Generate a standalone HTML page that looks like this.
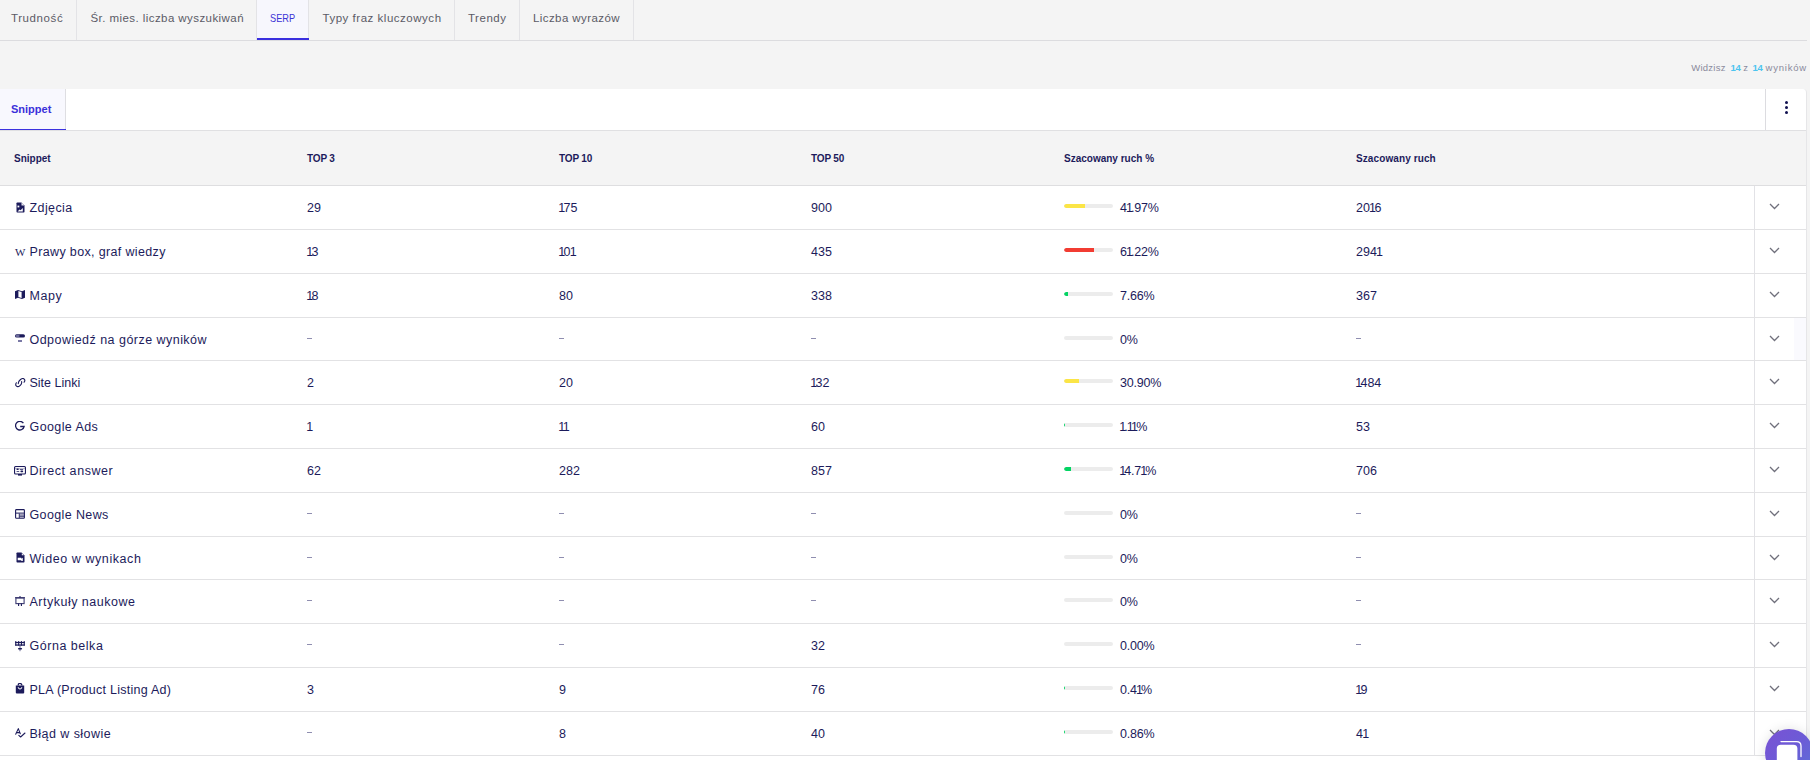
<!DOCTYPE html><html><head><meta charset="utf-8"><style>
*{box-sizing:border-box;margin:0;padding:0}
html,body{width:1810px;height:760px;overflow:hidden;background:#f4f4f4;font-family:"Liberation Sans",sans-serif;color:#1c1b5b}
.abs{position:absolute}
.tabbar{position:absolute;left:0;top:0;width:1807px;height:41px;border-bottom:1px solid #dcdcdf}
.tab{position:absolute;top:0;height:40px;border-right:1px solid #e3e3e6;font-size:11.5px;color:#5b5b66;line-height:40px;white-space:nowrap}
.tab span{position:absolute;top:-2.5px}
.tab.act span{transform:scaleX(0.8);transform-origin:0 50%}
.tab.act{background:#f7f7fd;color:#3b33d6}
.tab.act:after{content:"";position:absolute;left:0;right:-1px;bottom:0px;height:2px;background:#3a2fdf}
.info{position:absolute;top:58px;font-size:9.5px;color:#8a8a9c;white-space:nowrap;line-height:20px}
.info b{color:#4cc4ef;font-weight:bold}
.card{position:absolute;left:0;top:89px;width:1807px;height:680px;background:#fff;border-top-right-radius:4px;border-right:1px solid #e6e6e8}
.ctabs{position:absolute;left:0;top:0;width:1806px;height:42px;border-bottom:1px solid #e0e0e2}
.ctab{position:absolute;left:0;top:0;width:66px;height:41px;background:#f8f8fe;border-right:1px solid #dedee2}
.ctab span{position:absolute;left:11px;top:13px;font-size:11px;font-weight:bold;color:#3b30da;line-height:14px}
.ctab i{position:absolute;left:0;right:-1px;top:40px;height:1px;background:#3c32df}
.menu{position:absolute;left:1765px;top:0;width:41px;height:41px;border-left:1px solid #dcdce0}
.dot{position:absolute;left:19.3px;width:3px;height:3px;border-radius:50%;background:#10104f}
.thead{position:absolute;left:0;top:42px;width:1806px;height:55px;background:#f4f4f4;border-bottom:1px solid #dedee0}
.th{position:absolute;top:20.5px;font-size:10px;font-weight:bold;color:#1d1b5c;line-height:14px;white-space:nowrap}
.row{position:absolute;left:0;width:1806px;border-bottom:1px solid #e2e2e4}
.cell{position:absolute;top:1px;line-height:43px;font-size:12.5px;white-space:nowrap;color:#1c1b5b}
.name{font-size:12.5px}
.dash{position:absolute;top:20px;width:5px;height:1px;background:#8f8eb0}
.ic{position:absolute;display:block}
.ic svg{display:block}
.wk{font-family:"Liberation Serif",serif;font-size:11px;line-height:9px;color:#1c1b5b;display:block;letter-spacing:-0.5px}
.bar{position:absolute;left:1064px;top:18px;width:49px;height:4px;border-radius:2px;background:#ececec;overflow:hidden}
.bar i{position:absolute;left:0;top:0;height:4px;border-radius:2px 0 0 2px}
.pct{letter-spacing:-0.2px}
.d1{margin:0 -1.7px 0 -0.8px}
.exp{position:absolute;left:1754px;top:0;width:52px;height:100%;border-left:1px solid #e2e2e6}
.chev{position:absolute;left:13.6px;top:17px}
.chat{position:absolute;left:1765px;top:729px;width:48px;height:48px;border-radius:50%;background:linear-gradient(135deg,#7a52d4 0%,#6c5bd6 50%,#5a73d8 100%);box-shadow:0 0 12px rgba(0,0,0,.12)}
</style></head><body>
<div class="tabbar">
<div class="tab" style="left:0px;width:77px"><span style="left:11px;letter-spacing:0.59px">Trudność</span></div>
<div class="tab" style="left:77px;width:180px"><span style="left:13.5px;letter-spacing:0.43px">Śr. mies. liczba wyszukiwań</span></div>
<div class="tab act" style="left:257px;width:52px"><span style="left:13.2px;letter-spacing:0px">SERP</span></div>
<div class="tab" style="left:310px;width:145px"><span style="left:12.5px;letter-spacing:0.52px">Typy fraz kluczowych</span></div>
<div class="tab" style="left:455px;width:65px"><span style="left:13px;letter-spacing:0.52px">Trendy</span></div>
<div class="tab" style="left:520px;width:114px"><span style="left:13px;letter-spacing:0.41px">Liczba wyrazów</span></div>
</div>
<div class="info" style="left:1691.2px;letter-spacing:0.25px">Widzisz</div>
<div class="info" style="left:1730.6px;letter-spacing:-0.3px"><b>14</b></div>
<div class="info" style="left:1743.3px;letter-spacing:0px">z</div>
<div class="info" style="left:1752.6px;letter-spacing:-0.3px"><b>14</b></div>
<div class="info" style="left:1765.5px;letter-spacing:0.8px">wyników</div>
<div class="card">
<div class="ctabs"><div class="ctab"><span>Snippet</span><i></i></div>
<div class="menu"><div class="dot" style="top:12.2px"></div><div class="dot" style="top:17px"></div><div class="dot" style="top:21.8px"></div></div></div>
<div class="thead">
<div class="th" style="left:14px;letter-spacing:0px">Snippet</div>
<div class="th" style="left:307px;letter-spacing:-0.15px">TOP 3</div>
<div class="th" style="left:559px;letter-spacing:-0.15px">TOP 10</div>
<div class="th" style="left:811px;letter-spacing:-0.15px">TOP 50</div>
<div class="th" style="left:1064px;letter-spacing:0px">Szacowany ruch %</div>
<div class="th" style="left:1356px;letter-spacing:0.1px">Szacowany ruch</div>
</div>
<div class="row" style="top:97px;height:44px">
<span class="ic" style="left:15.5px;top:16px"><svg width="9" height="11" viewBox="0 0 9 11"><path d="M0.5 1.2Q0.5 0.5 1.2 0.5H5.5L8.5 3.5V9.8Q8.5 10.5 7.8 10.5H1.2Q0.5 10.5 0.5 9.8Z" fill="#1c1b5b"/><path d="M5.5 0.5V3.5H8.5" fill="#fff" opacity=".9"/><rect x="1.5" y="3.6" width="1.8" height="1.8" fill="#fff"/><path d="M1.5 9.5L3.6 7.4L4.6 8.2L6.8 6V9.5Z" fill="#fff"/></svg></span>
<div class="cell name" style="left:29.5px;letter-spacing:0.409px">Zdjęcia</div>
<div class="cell num" style="left:307px">29</div>
<div class="cell num" style="left:559px"><span class="d1">1</span>75</div>
<div class="cell num" style="left:811px">900</div>
<div class="cell num" style="left:1356px">20<span class="d1">1</span>6</div>
<div class="bar"><i style="width:21px;background:#fbe546"></i></div>
<div class="cell pct" style="left:1120px">4<span class="d1">1</span>.97%</div>
<div class="exp"><svg class="chev" width="11" height="7" viewBox="0 0 11 7"><path d="M1 1L5.5 5.5L10 1" fill="none" stroke="#70707c" stroke-width="1.3"/></svg></div>
</div>
<div class="row" style="top:141px;height:44px">
<span class="ic" style="left:15px;top:17.5px"><span class="wk">W</span></span>
<div class="cell name" style="left:29.5px;letter-spacing:0.354px">Prawy box, graf wiedzy</div>
<div class="cell num" style="left:307px"><span class="d1">1</span>3</div>
<div class="cell num" style="left:559px"><span class="d1">1</span>0<span class="d1">1</span></div>
<div class="cell num" style="left:811px">435</div>
<div class="cell num" style="left:1356px">294<span class="d1">1</span></div>
<div class="bar"><i style="width:30px;background:#f23c32"></i></div>
<div class="cell pct" style="left:1120px">6<span class="d1">1</span>.22%</div>
<div class="exp"><svg class="chev" width="11" height="7" viewBox="0 0 11 7"><path d="M1 1L5.5 5.5L10 1" fill="none" stroke="#70707c" stroke-width="1.3"/></svg></div>
</div>
<div class="row" style="top:185px;height:44px">
<span class="ic" style="left:15.3px;top:15.5px"><svg width="10" height="9" viewBox="0 0 10 9"><path d="M0 1.2L3 0L7 1.2L10 0V7.8L7 9L3 7.8L0 9Z" fill="#1c1b5b"/><path d="M3.4 1.1L6.6 2.1V7.9L3.4 6.9Z" fill="#fff"/></svg></span>
<div class="cell name" style="left:29.5px;letter-spacing:0.600px">Mapy</div>
<div class="cell num" style="left:307px"><span class="d1">1</span>8</div>
<div class="cell num" style="left:559px">80</div>
<div class="cell num" style="left:811px">338</div>
<div class="cell num" style="left:1356px">367</div>
<div class="bar"><i style="width:4px;background:#03d463"></i></div>
<div class="cell pct" style="left:1120px">7.66%</div>
<div class="exp"><svg class="chev" width="11" height="7" viewBox="0 0 11 7"><path d="M1 1L5.5 5.5L10 1" fill="none" stroke="#70707c" stroke-width="1.3"/></svg></div>
</div>
<div class="row" style="top:229px;height:43px">
<span class="ic" style="left:15px;top:16.2px"><svg width="10" height="9" viewBox="0 0 10 9"><rect x="0" y="0.2" width="10" height="3.4" rx="1.7" fill="#1c1b5b"/><rect x="0.6" y="0.8" width="4" height="2.2" rx="1.1" fill="#6b6a9a"/><rect x="3" y="6" width="4" height="2" fill="#7a79a6"/></svg></span>
<div class="cell name" style="left:29.5px;letter-spacing:0.467px">Odpowiedź na górze wyników</div>
<div class="dash" style="left:307px"></div>
<div class="dash" style="left:559px"></div>
<div class="dash" style="left:811px"></div>
<div class="dash" style="left:1356px"></div>
<div class="bar"><i style="width:0px;background:#03d463"></i></div>
<div class="cell pct" style="left:1120px">0%</div>
<div class="exp"><svg class="chev" width="11" height="7" viewBox="0 0 11 7"><path d="M1 1L5.5 5.5L10 1" fill="none" stroke="#70707c" stroke-width="1.3"/></svg></div>
<div style="position:absolute;left:1794px;top:0;width:12px;height:100%;background:#fafafe"></div>
</div>
<div class="row" style="top:272px;height:44px">
<span class="ic" style="left:15px;top:16.5px"><svg width="11" height="10" viewBox="0 0 11 10"><g fill="none" stroke="#1c1b5b" stroke-width="1.1" stroke-linecap="round"><path d="M3.3 5.6C3.1 4.2 4.2 2.6 5.5 1.5C6.6 0.6 8.3 0.2 9.2 1.1C10 1.9 9.9 3.2 9.1 4.2"/><path d="M6.6 3.5C6.9 4.9 6.4 6.3 5.3 7.3C4.3 8.2 2.6 9.2 1.5 8.2C0.6 7.4 0.7 5.8 1.4 4.8"/></g></svg></span>
<div class="cell name" style="left:29.5px;letter-spacing:0.000px">Site Linki</div>
<div class="cell num" style="left:307px">2</div>
<div class="cell num" style="left:559px">20</div>
<div class="cell num" style="left:811px"><span class="d1">1</span>32</div>
<div class="cell num" style="left:1356px"><span class="d1">1</span>484</div>
<div class="bar"><i style="width:15px;background:#fbe546"></i></div>
<div class="cell pct" style="left:1120px">30.90%</div>
<div class="exp"><svg class="chev" width="11" height="7" viewBox="0 0 11 7"><path d="M1 1L5.5 5.5L10 1" fill="none" stroke="#70707c" stroke-width="1.3"/></svg></div>
</div>
<div class="row" style="top:316px;height:44px">
<span class="ic" style="left:15px;top:15.7px"><svg width="10" height="11" viewBox="0 0 10 11"><path d="M8.4 2.2A4.3 4.3 0 1 0 9.1 5.5H5.2" fill="none" stroke="#1c1b5b" stroke-width="1.3"/></svg></span>
<div class="cell name" style="left:29.5px;letter-spacing:0.403px">Google Ads</div>
<div class="cell num" style="left:307px"><span class="d1">1</span></div>
<div class="cell num" style="left:559px"><span class="d1">1</span><span class="d1">1</span></div>
<div class="cell num" style="left:811px">60</div>
<div class="cell num" style="left:1356px">53</div>
<div class="bar"><i style="width:1px;background:#03d463"></i></div>
<div class="cell pct" style="left:1120px"><span class="d1">1</span>.<span class="d1">1</span><span class="d1">1</span>%</div>
<div class="exp"><svg class="chev" width="11" height="7" viewBox="0 0 11 7"><path d="M1 1L5.5 5.5L10 1" fill="none" stroke="#70707c" stroke-width="1.3"/></svg></div>
</div>
<div class="row" style="top:360px;height:44px">
<span class="ic" style="left:14.2px;top:16.7px"><svg width="12" height="10" viewBox="0 0 12 10"><rect x="0.55" y="0.55" width="10.9" height="7.5" rx="1" fill="none" stroke="#1c1b5b" stroke-width="1.1"/><rect x="0.9" y="1.9" width="10.2" height="0.9" fill="#1c1b5b" opacity=".35"/><rect x="2.4" y="2.6" width="2.4" height="1.5" rx=".75" fill="#1c1b5b"/><rect x="5.6" y="2.9" width="3.8" height="0.9" rx=".45" fill="#1c1b5b"/><rect x="2.4" y="4.9" width="3" height="0.9" rx=".45" fill="#1c1b5b"/><rect x="6.4" y="4.5" width="2.8" height="1.7" rx=".85" fill="#1c1b5b"/><rect x="4" y="8" width="4" height="1.6" fill="#1c1b5b"/></svg></span>
<div class="cell name" style="left:29.5px;letter-spacing:0.571px">Direct answer</div>
<div class="cell num" style="left:307px">62</div>
<div class="cell num" style="left:559px">282</div>
<div class="cell num" style="left:811px">857</div>
<div class="cell num" style="left:1356px">706</div>
<div class="bar"><i style="width:7px;background:#03d463"></i></div>
<div class="cell pct" style="left:1120px"><span class="d1">1</span>4.7<span class="d1">1</span>%</div>
<div class="exp"><svg class="chev" width="11" height="7" viewBox="0 0 11 7"><path d="M1 1L5.5 5.5L10 1" fill="none" stroke="#70707c" stroke-width="1.3"/></svg></div>
</div>
<div class="row" style="top:404px;height:44px">
<span class="ic" style="left:15px;top:16px"><svg width="10" height="10" viewBox="0 0 10 10"><rect x="0.6" y="0.6" width="8.8" height="8.6" rx="0.8" fill="none" stroke="#1c1b5b" stroke-width="1.1"/><rect x="1" y="3.6" width="8" height="1" fill="#1c1b5b"/><rect x="4.4" y="5.6" width="4.6" height="0.9" fill="#1c1b5b"/><rect x="4.4" y="7.3" width="4.6" height="0.9" fill="#1c1b5b"/><rect x="3.8" y="4.5" width="0.9" height="4.5" fill="#1c1b5b"/></svg></span>
<div class="cell name" style="left:29.5px;letter-spacing:0.381px">Google News</div>
<div class="dash" style="left:307px"></div>
<div class="dash" style="left:559px"></div>
<div class="dash" style="left:811px"></div>
<div class="dash" style="left:1356px"></div>
<div class="bar"><i style="width:0px;background:#03d463"></i></div>
<div class="cell pct" style="left:1120px">0%</div>
<div class="exp"><svg class="chev" width="11" height="7" viewBox="0 0 11 7"><path d="M1 1L5.5 5.5L10 1" fill="none" stroke="#70707c" stroke-width="1.3"/></svg></div>
</div>
<div class="row" style="top:448px;height:43px">
<span class="ic" style="left:15.5px;top:15px"><svg width="9" height="11" viewBox="0 0 9 11"><path d="M0.5 1.2Q0.5 0.5 1.2 0.5H5.5L8.5 3.5V9.8Q8.5 10.5 7.8 10.5H1.2Q0.5 10.5 0.5 9.8Z" fill="#1c1b5b"/><path d="M5.8 1.2V3.2H7.8Z" fill="#fff"/><path d="M1.7 5.8H5.3V6.7L6.8 5.8V9H5.3V8.3H1.7Z" fill="#fff"/></svg></span>
<div class="cell name" style="left:29.5px;letter-spacing:0.569px">Wideo w wynikach</div>
<div class="dash" style="left:307px"></div>
<div class="dash" style="left:559px"></div>
<div class="dash" style="left:811px"></div>
<div class="dash" style="left:1356px"></div>
<div class="bar"><i style="width:0px;background:#03d463"></i></div>
<div class="cell pct" style="left:1120px">0%</div>
<div class="exp"><svg class="chev" width="11" height="7" viewBox="0 0 11 7"><path d="M1 1L5.5 5.5L10 1" fill="none" stroke="#70707c" stroke-width="1.3"/></svg></div>
</div>
<div class="row" style="top:491px;height:44px">
<span class="ic" style="left:15px;top:15.5px"><svg width="10" height="11" viewBox="0 0 10 11"><path d="M0 1.3H10V2.2H0Z" fill="#1c1b5b"/><rect x="4.4" y="0" width="1.2" height="1.5" rx=".5" fill="#1c1b5b"/><rect x="0.9" y="2" width="8.2" height="5.6" fill="none" stroke="#1c1b5b" stroke-width="1.1" opacity=".85"/><path d="M3.6 7.5V10M6.4 7.5V10" stroke="#1c1b5b" stroke-width="1.1"/></svg></span>
<div class="cell name" style="left:29.5px;letter-spacing:0.493px">Artykuły naukowe</div>
<div class="dash" style="left:307px"></div>
<div class="dash" style="left:559px"></div>
<div class="dash" style="left:811px"></div>
<div class="dash" style="left:1356px"></div>
<div class="bar"><i style="width:0px;background:#03d463"></i></div>
<div class="cell pct" style="left:1120px">0%</div>
<div class="exp"><svg class="chev" width="11" height="7" viewBox="0 0 11 7"><path d="M1 1L5.5 5.5L10 1" fill="none" stroke="#70707c" stroke-width="1.3"/></svg></div>
</div>
<div class="row" style="top:535px;height:44px">
<span class="ic" style="left:15px;top:16.6px"><svg width="10" height="11" viewBox="0 0 10 11"><g fill="#1c1b5b"><rect x="0.2" y="0.1" width="1.1" height="4.5"/><rect x="3.1" y="0.1" width="1.1" height="4.5"/><rect x="5.9" y="0.1" width="1.1" height="4.5"/><rect x="8.7" y="0.1" width="1.1" height="4.5"/><rect x="0.2" y="0.9" width="9.6" height="1.2"/><rect x="0.2" y="3.4" width="9.6" height="1.3"/><rect x="4.4" y="4.6" width="1.2" height="5.6" opacity=".55"/><rect x="3" y="7.1" width="4.1" height="1.4" rx=".7"/></g></svg></span>
<div class="cell name" style="left:29.5px;letter-spacing:0.525px">Górna belka</div>
<div class="dash" style="left:307px"></div>
<div class="dash" style="left:559px"></div>
<div class="cell num" style="left:811px">32</div>
<div class="dash" style="left:1356px"></div>
<div class="bar"><i style="width:0px;background:#03d463"></i></div>
<div class="cell pct" style="left:1120px">0.00%</div>
<div class="exp"><svg class="chev" width="11" height="7" viewBox="0 0 11 7"><path d="M1 1L5.5 5.5L10 1" fill="none" stroke="#70707c" stroke-width="1.3"/></svg></div>
</div>
<div class="row" style="top:579px;height:44px">
<span class="ic" style="left:15px;top:15px"><svg width="10" height="11" viewBox="0 0 10 11"><path d="M3.2 2.6V2.2A1.8 1.8 0 0 1 6.8 2.2V2.6" fill="none" stroke="#1c1b5b" stroke-width="1.3"/><path d="M0.8 2.6H9.2V9.6Q9.2 10.6 8.2 10.6H1.8Q0.8 10.6 0.8 9.6Z" fill="#1c1b5b"/><path d="M3.2 4.2A1.8 1.8 0 0 0 6.8 4.2" fill="none" stroke="#fff" stroke-width="1"/></svg></span>
<div class="cell name" style="left:29.5px;letter-spacing:0.260px">PLA (Product Listing Ad)</div>
<div class="cell num" style="left:307px">3</div>
<div class="cell num" style="left:559px">9</div>
<div class="cell num" style="left:811px">76</div>
<div class="cell num" style="left:1356px"><span class="d1">1</span>9</div>
<div class="bar"><i style="width:1px;background:#03d463"></i></div>
<div class="cell pct" style="left:1120px">0.4<span class="d1">1</span>%</div>
<div class="exp"><svg class="chev" width="11" height="7" viewBox="0 0 11 7"><path d="M1 1L5.5 5.5L10 1" fill="none" stroke="#70707c" stroke-width="1.3"/></svg></div>
</div>
<div class="row" style="top:623px;height:44px">
<span class="ic" style="left:15px;top:16px"><svg width="11" height="10" viewBox="0 0 11 10"><g fill="none" stroke="#1c1b5b" stroke-width="1.05" stroke-linecap="round" stroke-linejoin="round"><path d="M0.7 6.2L3.3 0.6L5.3 5.8M1.6 4.6H4.4"/><path d="M3.8 7.4L5.6 9L10 5"/></g></svg></span>
<div class="cell name" style="left:29.5px;letter-spacing:0.452px">Błąd w słowie</div>
<div class="dash" style="left:307px"></div>
<div class="cell num" style="left:559px">8</div>
<div class="cell num" style="left:811px">40</div>
<div class="cell num" style="left:1356px">4<span class="d1">1</span></div>
<div class="bar"><i style="width:1px;background:#03d463"></i></div>
<div class="cell pct" style="left:1120px">0.86%</div>
<div class="exp"><svg class="chev" width="11" height="7" viewBox="0 0 11 7"><path d="M1 1L5.5 5.5L10 1" fill="none" stroke="#70707c" stroke-width="1.3"/></svg></div>
</div>
</div>
<div class="chat"><svg style="position:absolute;left:0;top:0" width="48" height="48" viewBox="0 0 48 48"><rect x="11.8" y="15.8" width="20.6" height="22" rx="4" fill="#fff"/><path d="M16 12.6H31.5Q36 12.6 36 17V27.5" fill="none" stroke="#fff" stroke-width="1.3" stroke-linecap="round"/></svg></div>
</body></html>
